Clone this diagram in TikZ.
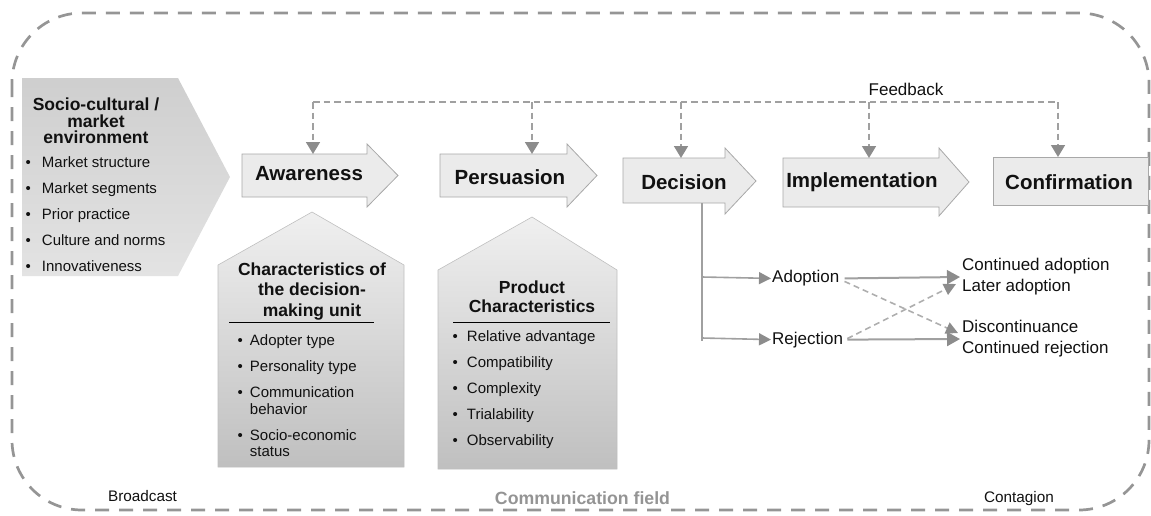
\documentclass[tikz,border=0pt]{standalone}
\usepackage{fontspec}
\setmainfont{Liberation Sans}
\usetikzlibrary{arrows.meta}
\definecolor{framegray}{HTML}{959595}
\definecolor{linegray}{HTML}{A0A0A0}
\definecolor{tipgray}{HTML}{8C8C8C}
\definecolor{boxline}{HTML}{A8A8A8}
\definecolor{stagefill}{HTML}{EBEBEB}
\definecolor{txt}{HTML}{111111}
\newcommand\listfont{\fontsize{15}{16.5}\selectfont}
\begin{document}
\begin{tikzpicture}[x=1pt,y=-1pt,
  every node/.style={inner sep=0pt, text=txt},
  frame/.style={draw=framegray, line width=2.7pt, dash pattern=on 14pt off 10pt, rounded corners=70pt},
  stageshape/.style={draw=boxline, line width=0.8pt, fill=stagefill},
  stagetext/.style={font=\fontsize{20.5}{24}\selectfont\bfseries, anchor=base},
  envshape/.style={top color=black!19, bottom color=black!11},
  houseshape/.style={draw=black!25, line width=0.6pt, top color=black!6, bottom color=black!25},
  ttl/.style={font=\fontsize{17.5}{20.5}\selectfont\bfseries, align=center, anchor=north},
  lst/.style={font=\listfont, anchor=base west, align=left},
  fb/.style={draw=linegray, line width=1.6pt, dash pattern=on 6.5pt off 4pt},
  fbarrow/.style={fb, -{Triangle[width=14pt,length=12pt,color=tipgray]}},
  branch/.style={draw=linegray, line width=1.6pt},
  brarrow/.style={branch, -{Triangle[width=12pt,length=12pt,color=tipgray]}},
  resarrow/.style={draw=linegray, line width=2pt, -{Triangle[width=14pt,length=13pt,color=tipgray]}},
  resdash/.style={draw=linegray!85, line width=1.6pt, dash pattern=on 6pt off 4pt, -{Triangle[width=12pt,length=12pt,color=tipgray]}},
  small/.style={font=\fontsize{17}{21}\selectfont, anchor=west, align=left},
  foot/.style={font=\fontsize{15.3}{18}\selectfont, anchor=base},
]
\useasboundingbox (0,0) rectangle (1151,515);

% communication field frame
\draw[frame] (12,13) rectangle (1149,510);

% socio-cultural environment
\path[envshape] (22,78) -- (178,78) -- (230,177) -- (178,276) -- (22,276) -- cycle;
\node[ttl, font=\fontsize{17.5}{16.8}\selectfont\bfseries] (envt) at (96,97.5) {Socio-cultural /\\market\\environment};
\node[lst] (envl) at (25.5,167.3) {\begin{tabular}[t]{@{}l@{\hspace{11pt}}l@{}}
\textbullet & Market structure\\[9.5pt]
\textbullet & Market segments\\[9.5pt]
\textbullet & Prior practice\\[9.5pt]
\textbullet & Culture and norms\\[9.5pt]
\textbullet & Innovativeness
\end{tabular}};

% stages
\path[stageshape] (242,154) -- (367,154) -- (367,144) -- (398,175.5) -- (367,207) -- (367,197) -- (242,197) -- cycle;
\path[stageshape] (440,154) -- (567,154) -- (567,144) -- (597,175.5) -- (567,207) -- (567,197) -- (440,197) -- cycle;
\path[stageshape] (623,158) -- (725,158) -- (725,148) -- (756,181) -- (725,214) -- (725,203) -- (623,203) -- cycle;
\path[stageshape] (783,158) -- (939,158) -- (939,148) -- (969,182) -- (939,216) -- (939,207) -- (783,207) -- cycle;
\path[stageshape] (993,157) rectangle (1148,205);

\node[stagetext] (aw) at (309,180.5) {Awareness};
\node[stagetext] (pe) at (510,184) {Persuasion};
\node[stagetext] (de) at (684,189) {Decision};
\node[stagetext] (im) at (862,187) {Implementation};
\node[stagetext] (co) at (1069,189.5) {Confirmation};

% feedback
\coordinate (fbA) at (313,102);
\coordinate (fbB) at (532,102);
\coordinate (fbC) at (681,102);
\coordinate (fbD) at (869,102);
\coordinate (fbE) at (1058,102);
\coordinate (awin) at (313,154);
\coordinate (pein) at (532,154);
\coordinate (dein) at (681,158);
\coordinate (imin) at (869,158);
\coordinate (coin) at (1058,157);
\draw[fb] (fbA) -- (fbE);
\draw[fbarrow] (fbA) -- (awin);
\draw[fbarrow] (fbB) -- (pein);
\draw[fbarrow] (fbC) -- (dein);
\draw[fbarrow] (fbD) -- (imin);
\draw[fbarrow] (fbE) -- (coin);
\node[font=\fontsize{17}{20}\selectfont, anchor=base] (fbt) at (906,95) {Feedback};

% decision branches
\coordinate (dbot) at (702,203);
\coordinate (badop) at (702,277);
\coordinate (brej) at (702,338);
\coordinate (bend) at (702,341);
\node[font=\fontsize{17}{21}\selectfont, anchor=base west, inner sep=1pt] (ad) at (771,282.8) {Adoption};
\node[font=\fontsize{17}{21}\selectfont, anchor=base west, inner sep=1pt] (rj) at (771,344) {Rejection};
\draw[branch] (dbot) -- (bend);
\draw[brarrow] (badop) -- (ad.west);
\draw[brarrow] (brej) -- (rj.west);

\node[small, inner sep=2pt] (ca) at (960,277) {Continued adoption\\Later adoption};
\node[small, inner sep=2pt] (dc) at (960,339) {Discontinuance\\Continued rejection};
\draw[resdash] ([xshift=4pt,yshift=-3pt]ad.east) -- ([xshift=-2pt,yshift=6pt]dc.west);
\draw[resdash] ([xshift=3pt,yshift=1pt]rj.east) -- ([xshift=-4pt,yshift=-7pt]ca.west);
\draw[resarrow] ([xshift=4pt]ad.east) -- (ca.west);
\draw[resarrow] ([xshift=3pt]rj.east) -- (dc.west);

% characteristics of the decision-making unit
\path[houseshape] (218,265) -- (312,212) -- (404,265) -- (404,467) -- (218,467) -- cycle;
\node[ttl] (dmut) at (312,262.6) {Characteristics of\\the decision-\\making unit};
\draw[line width=1pt, black] (229,322) -- (374,322);
\node[lst] (dmul) at (237.5,345.7) {\begin{tabular}[t]{@{}l@{\hspace{7pt}}l@{}}
\textbullet & Adopter type\\[9.5pt]
\textbullet & Personality type\\[9.5pt]
\textbullet & Communication\\
 & behavior\\[9.5pt]
\textbullet & Socio-economic\\
 & status
\end{tabular}};

% product characteristics
\path[houseshape] (438,270) -- (532,217) -- (617,270) -- (617,469) -- (438,469) -- cycle;
\node[ttl, font=\fontsize{17.5}{19.8}\selectfont\bfseries] (prt) at (532,280.3) {Product\\Characteristics};
\draw[line width=1pt, black] (453,322) -- (610,322);
\node[lst] (prl) at (452.5,341.7) {\begin{tabular}[t]{@{}l@{\hspace{9pt}}l@{}}
\textbullet & Relative advantage\\[9.5pt]
\textbullet & Compatibility\\[9.5pt]
\textbullet & Complexity\\[9.5pt]
\textbullet & Trialability\\[9.5pt]
\textbullet & Observability
\end{tabular}};

% footer labels
\node[foot] (bc) at (142.5,501.7) {Broadcast};
\node[foot] (ct) at (1019,502) {Contagion};
\node[foot, font=\fontsize{17.7}{20}\selectfont\bfseries, text=black!42] (cf) at (582.5,504) {Communication field};
\end{tikzpicture}
\end{document}
